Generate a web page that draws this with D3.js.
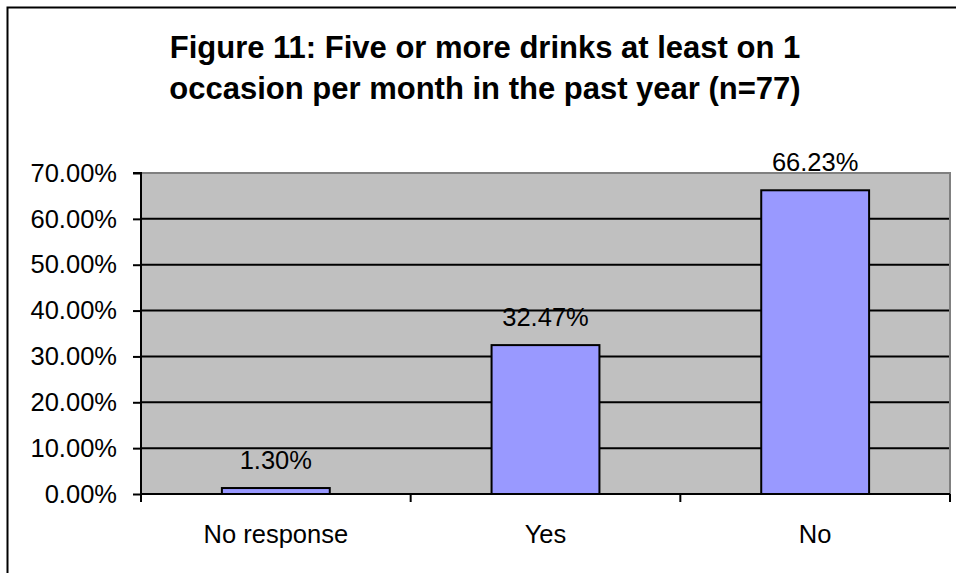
<!DOCTYPE html>
<html>
<head>
<meta charset="utf-8">
<script src="https://cdn.jsdelivr.net/npm/d3@7"></script>
<style>
  html, body { margin: 0; padding: 0; background: #fff; }
  svg { display: block; font-family: "Liberation Sans", Arial, sans-serif; }
</style>
</head>
<body>
<svg id="chart" width="956" height="573"></svg>
<script>
// Survey responses: heavy drinking at least once per month in the past year
const categories = ["No response", "Yes", "No"];
const shares = [0.0130, 0.3247, 0.6623];
const yTicks = [0, 0.1, 0.2, 0.3, 0.4, 0.5, 0.6, 0.7];
const titleLines = [
  "Figure 11: Five or more drinks at least on 1",
  "occasion per month in the past year (n=77)"
];

const svg = d3.select("#chart");
const W = 956, H = 573;
const plot = { left: 141, right: 950, top: 173, bottom: 494 };
const labelSize = 25.5;

// Outer chart frame (only left and top edges fall inside the view)
svg.append("rect")
  .attr("x", 7.5).attr("y", 7.5)
  .attr("width", W + 20).attr("height", H + 20)
  .attr("fill", "#fff").attr("stroke", "#000").attr("stroke-width", 2);

// Title
svg.append("g").selectAll("text")
  .data(titleLines)
  .join("text")
  .attr("x", 485)
  .attr("y", (d, i) => 58 + i * 41)
  .attr("text-anchor", "middle")
  .attr("font-size", 31)
  .attr("font-weight", "bold")
  .attr("fill", "#000")
  .text(d => d);

const x = d3.scaleBand()
  .domain(categories)
  .range([plot.left, plot.right])
  .paddingInner(0.6)
  .paddingOuter(0.3);

const y = d3.scaleLinear()
  .domain([0, 0.7])
  .range([plot.bottom, plot.top]);

// Plot background
svg.append("rect")
  .attr("x", plot.left).attr("y", plot.top)
  .attr("width", plot.right - plot.left).attr("height", plot.bottom - plot.top)
  .attr("fill", "#c0c0c0");

// Horizontal gridlines
svg.append("g").selectAll("line")
  .data(yTicks.filter(t => t > 0 && t < 0.7))
  .join("line")
  .attr("x1", plot.left).attr("x2", plot.right)
  .attr("y1", d => y(d)).attr("y2", d => y(d))
  .attr("stroke", "#000").attr("stroke-width", 2);

// Plot border on top and right
svg.append("path")
  .attr("d", `M${plot.left},${plot.top}H${plot.right}V${plot.bottom}`)
  .attr("fill", "none").attr("stroke", "#808080").attr("stroke-width", 2);

// Bars
svg.append("g").selectAll("rect")
  .data(categories.map((c, i) => ({ c, v: shares[i] })))
  .join("rect")
  .attr("x", d => x(d.c))
  .attr("y", d => y(d.v))
  .attr("width", x.bandwidth())
  .attr("height", d => y(0) - y(d.v))
  .attr("fill", "#9999ff")
  .attr("stroke", "#000")
  .attr("stroke-width", 2);

// Value labels
svg.append("g").selectAll("text")
  .data(categories.map((c, i) => ({ c, v: shares[i] })))
  .join("text")
  .attr("x", d => x(d.c) + x.bandwidth() / 2)
  .attr("y", d => y(d.v) - 19)
  .attr("text-anchor", "middle")
  .attr("font-size", labelSize)
  .attr("fill", "#000")
  .text(d => (d.v * 100).toFixed(2) + "%");

// Y axis
const yAxis = d3.axisLeft(y)
  .tickValues(yTicks)
  .tickSize(8)
  .tickPadding(16)
  .tickFormat(d => (d * 100).toFixed(2) + "%");
const gy = svg.append("g")
  .attr("transform", `translate(${plot.left},0)`)
  .call(yAxis);
gy.select(".domain").attr("stroke", "#000").attr("stroke-width", 2)
  .attr("d", `M-8,${plot.top}H0V${plot.bottom}`);
gy.selectAll(".tick line").attr("stroke", "#000").attr("stroke-width", 2);
gy.selectAll(".tick text")
  .attr("font-size", labelSize)
  .attr("font-family", "Liberation Sans, Arial, sans-serif")
  .attr("fill", "#000");

// X axis: ticks at category boundaries, labels centred under bars
const bounds = d3.range(categories.length + 1).map(i => plot.left + i * x.step());
const gx = svg.append("g");
gx.append("line")
  .attr("x1", plot.left).attr("x2", plot.right)
  .attr("y1", plot.bottom).attr("y2", plot.bottom)
  .attr("stroke", "#000").attr("stroke-width", 2);
gx.selectAll("line.tk")
  .data(bounds)
  .join("line")
  .attr("class", "tk")
  .attr("x1", d => d).attr("x2", d => d)
  .attr("y1", plot.bottom).attr("y2", plot.bottom + 8)
  .attr("stroke", "#000").attr("stroke-width", 2);
gx.selectAll("text")
  .data(categories)
  .join("text")
  .attr("x", d => x(d) + x.bandwidth() / 2)
  .attr("y", 543)
  .attr("text-anchor", "middle")
  .attr("font-size", labelSize)
  .attr("fill", "#000")
  .text(d => d);
</script>
</body>
</html>
